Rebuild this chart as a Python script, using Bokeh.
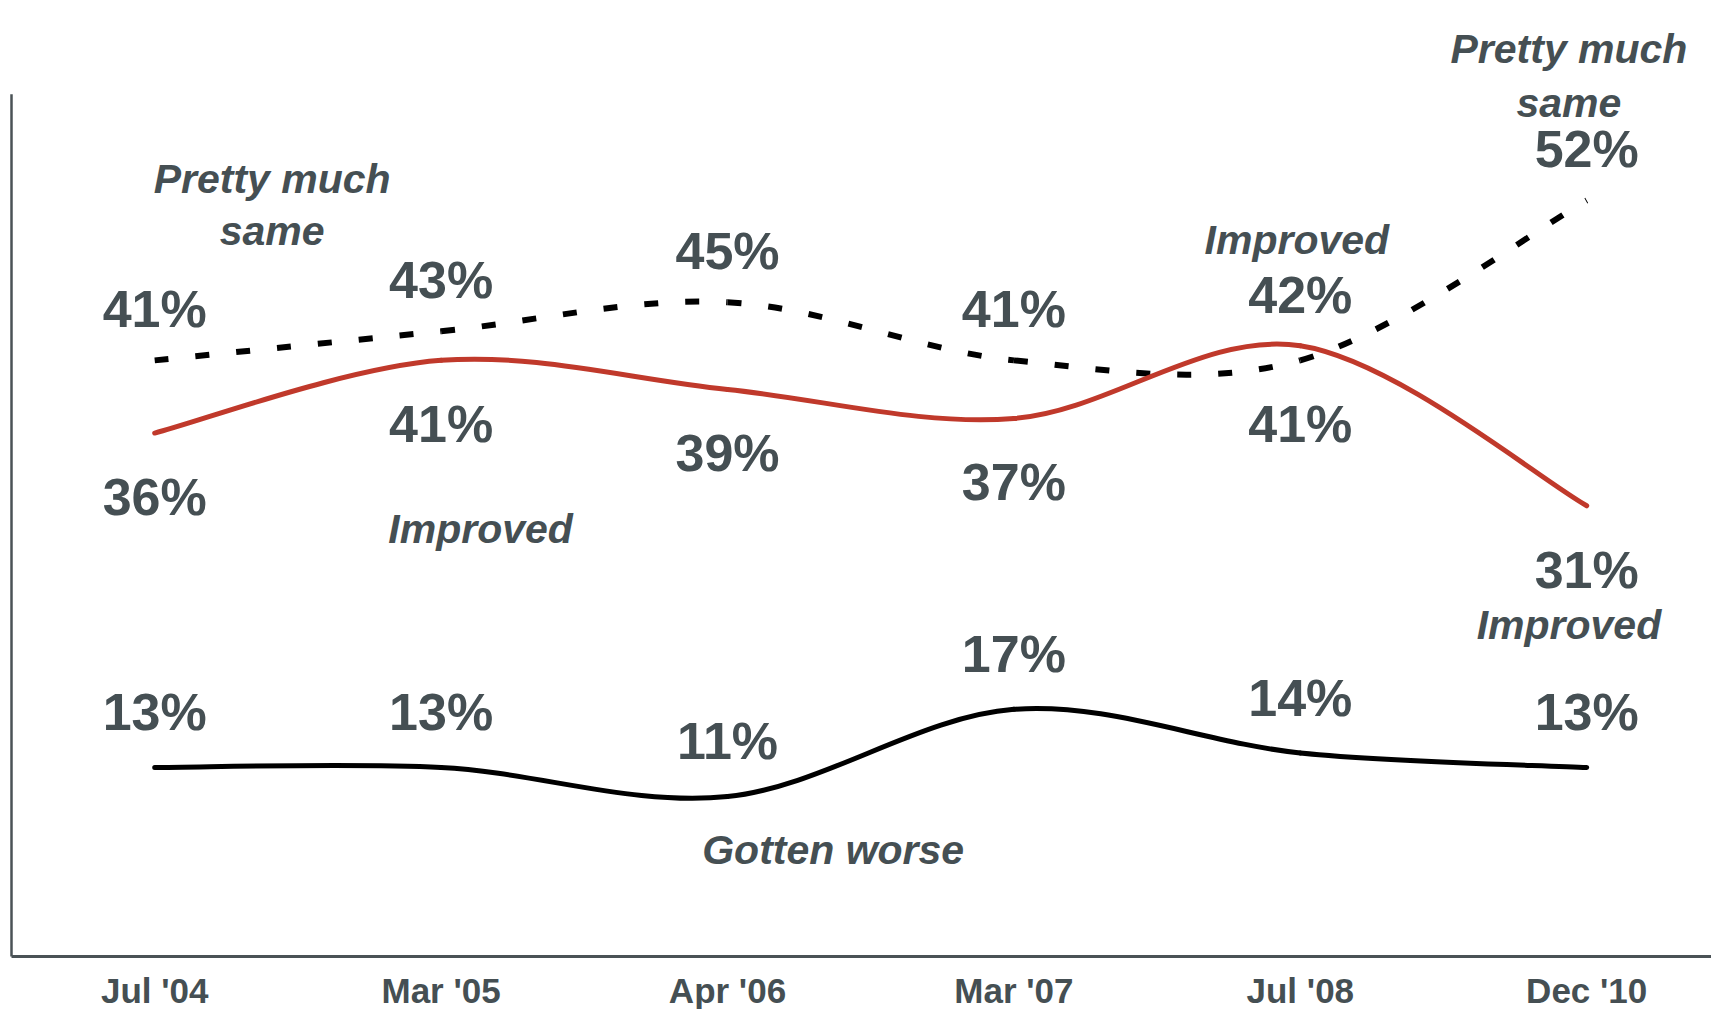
import glob
import numpy as np
from bokeh.plotting import figure
from bokeh.models import Range1d
from bokeh.core.properties import value
from bokeh.embed import file_html
from bokeh.resources import INLINE

# ---------------- data ----------------
dates = ["Jul '04", "Mar '05", "Apr '06", "Mar '07", "Jul '08", "Dec '10"]
improved = [36, 41, 39, 37, 42, 31]
same = [41, 43, 45, 41, 41, 52]
worse = [13, 13, 11, 17, 14, 13]

# where each value label sits relative to its line
improved_side = ["below", "below", "below", "below", "above", "below"]
same_side = ["above", "above", "above", "above", "below", "above"]
worse_side = ["above"] * 6

# series name annotations (text, x in category index, y in percent)
names = ["Pretty much", "same", "Improved", "Gotten worse", "Improved",
         "Pretty much", "same", "Improved"]
names_x = [0.41, 0.41, 1.138, 2.369, 3.988, 4.938, 4.938, 4.938]
names_y = [52.5, 48.9, 28.4, 6.36, 48.3, 61.4, 57.7, 21.8]

# ---------------- style ----------------
TXT = "#454f53"
RED = "#c0392b"
AXIS = "#4a5256"
NUM_FONT = "Liberation Sans"
if glob.glob("/usr/share/fonts/**/LiberationSansNarrow-BoldItalic*", recursive=True):
    ITAL_FONT, ITAL_SIZE = "Liberation Sans Narrow", 48
else:
    ITAL_FONT, ITAL_SIZE = "Liberation Sans", 41

PX_PER_UNIT = 14.54   # vertical pixels per percentage point
PX_PER_CAT = 286.4    # horizontal pixels per category
W, H = 1711, 1009
ZERO_Y = 956          # pixel row of the 0% baseline
FIRST_X = 154.2       # pixel column of the first category

x_start = -FIRST_X / PX_PER_CAT
x_end = (W - FIRST_X) / PX_PER_CAT
y_start = -(H - ZERO_Y) / PX_PER_UNIT
y_end = ZERO_Y / PX_PER_UNIT

p = figure(width=W, height=H,
           x_range=Range1d(x_start, x_end),
           y_range=Range1d(y_start, y_end),
           output_backend="svg", toolbar_location=None,
           min_border_left=0, min_border_right=0, min_border_top=0,
           min_border_bottom=0)
p.xaxis.visible = False
p.yaxis.visible = False
p.grid.visible = False
p.outline_line_color = None
p.background_fill_color = "white"
p.border_fill_color = "white"

xs = list(range(len(dates)))

# axis lines
p.segment(x0=[-0.5], y0=[0], x1=[-0.5], y1=[59.3], line_color=AXIS, line_width=2.5)
p.segment(x0=[-0.5], y0=[0], x1=[x_end], y1=[0], line_color=AXIS, line_width=3)

# baseline correction: text glyph anchors sit ~0.35em above the drawn baseline
FIX = 0.35

# category labels below the axis
TICK_SIZE = 35
p.text(x=xs, y=[0] * len(xs), text=dates, y_offset=46 - FIX * TICK_SIZE,
       text_align="center", text_baseline="alphabetic",
       text_font=value(NUM_FONT), text_font_style="bold",
       text_font_size=f"{TICK_SIZE}px", text_color=TXT)


def smooth(xv, yv):
    """Cubic Bezier segments through the data points (Catmull-Rom style)."""
    P = np.column_stack([xv, yv]).astype(float)
    n = len(P)
    out = {k: [] for k in ["x0", "y0", "x1", "y1", "cx0", "cy0", "cx1", "cy1"]}
    for i in range(n - 1):
        pp = P[max(i - 1, 0)]
        p0 = P[i]
        p1 = P[i + 1]
        pn = P[min(i + 2, n - 1)]
        c0 = p0 + (p1 - pp) / 6.0
        c1 = p1 - (pn - p0) / 6.0
        out["x0"].append(p0[0]); out["y0"].append(p0[1])
        out["x1"].append(p1[0]); out["y1"].append(p1[1])
        out["cx0"].append(c0[0]); out["cy0"].append(c0[1])
        out["cx1"].append(c1[0]); out["cy1"].append(c1[1])
    return out


p.bezier(**smooth(xs, same), line_color="black", line_width=6, line_dash="14 27")
p.bezier(**smooth(xs, improved), line_color=RED, line_width=5, line_cap="round")
p.bezier(**smooth(xs, worse), line_color="black", line_width=5, line_cap="round")

# value labels
NUM_SIZE = 52
ABOVE = -33
ABOVE_W = -37
BELOW = 82


def vlabels(vals, sides, above):
    offs = [(above if s == "above" else BELOW) - FIX * NUM_SIZE for s in sides]
    p.text(x=xs, y=vals, text=[f"{v}%" for v in vals], y_offset=offs,
           text_align="center", text_baseline="alphabetic",
           text_font=value(NUM_FONT), text_font_style="bold",
           text_font_size=f"{NUM_SIZE}px", text_color=TXT)


vlabels(same, same_side, ABOVE)
vlabels(improved, improved_side, ABOVE)
vlabels(worse, worse_side, ABOVE_W)

p.text(x=names_x, y=names_y, text=names, y_offset=-FIX * ITAL_SIZE,
       text_align="center", text_baseline="alphabetic",
       text_font=value(ITAL_FONT), text_font_style="bold italic",
       text_font_size=f"{ITAL_SIZE}px", text_color=TXT)

open("out.html", "w").write(file_html(p, INLINE))
